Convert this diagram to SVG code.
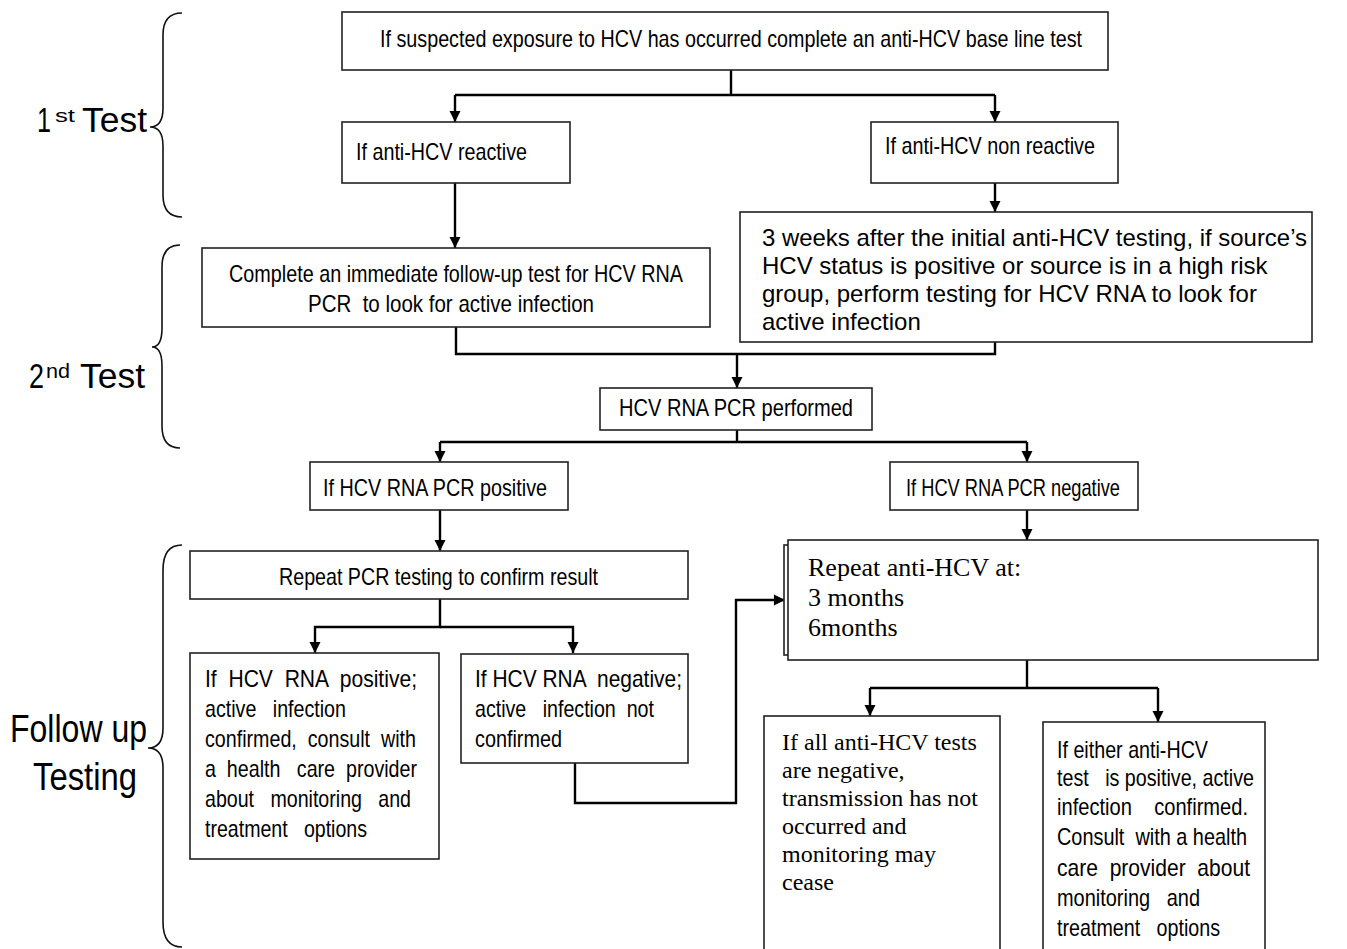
<svg xmlns="http://www.w3.org/2000/svg" width="1347" height="949" viewBox="0 0 1347 949">
<style>
.box{fill:#fff;stroke:#222;stroke-width:1.6}
.c{fill:none;stroke:#000;stroke-width:2.4}
.br{fill:none;stroke:#111;stroke-width:1.6}
.n{font-family:"Liberation Sans",Arial,sans-serif;fill:#000}
.a{font-family:"Liberation Sans",Arial,sans-serif;fill:#000}
.t{font-family:"Liberation Serif","Times New Roman",serif;fill:#000}
</style>
<defs>
<marker id="ah" viewBox="0 0 10 10" refX="10" refY="5" markerWidth="5.2" markerHeight="4.6" orient="auto" markerUnits="strokeWidth">
<path d="M0,0 L10,5 L0,10 z" fill="#000"/>
</marker>
</defs>
<rect width="1347" height="949" fill="#fff"/>

<g id="labels">
<path class="br" d="M182,13 Q163,13 163,35 L163,108 Q163,127 150,127 Q163,127 163,146 L163,195 Q163,217 182,217"/>
<text class="n" x="37" y="132" font-size="35" textLength="14" lengthAdjust="spacingAndGlyphs">1</text>
<text class="n" x="55" y="122" font-size="19" textLength="20" lengthAdjust="spacingAndGlyphs">st</text>
<text class="n" x="82" y="132" font-size="35" textLength="65" lengthAdjust="spacingAndGlyphs">Test</text>
<path class="br" d="M180,245 Q162,245 162,267 L162,328 Q162,347 152,347 Q162,347 162,366 L162,426 Q162,448 180,448"/>
<text class="n" x="29" y="388" font-size="35" textLength="15" lengthAdjust="spacingAndGlyphs">2</text>
<text class="n" x="46" y="378" font-size="20" textLength="24" lengthAdjust="spacingAndGlyphs">nd</text>
<text class="n" x="80" y="388" font-size="35" textLength="65" lengthAdjust="spacingAndGlyphs">Test</text>
<path class="br" d="M182,545 Q163,545 163,570 L163,728 Q163,748 148,748 Q163,748 163,768 L163,922 Q163,947 182,947"/>
<text class="n" x="10" y="742" font-size="38" textLength="137" lengthAdjust="spacingAndGlyphs">Follow up</text>
<text class="n" x="33" y="790" font-size="38" textLength="104" lengthAdjust="spacingAndGlyphs">Testing</text>
</g>

<g id="connectors">
<path class="c" d="M731,70 L731,95"/>
<path class="c" d="M455,95 L995,95" stroke-width="3"/>
<path class="c" d="M455,95 L455,122" marker-end="url(#ah)"/>
<path class="c" d="M995,95 L995,122" marker-end="url(#ah)"/>
<path class="c" d="M455,183 L455,248" marker-end="url(#ah)"/>
<path class="c" d="M995,183 L995,212" marker-end="url(#ah)"/>
<path class="c" d="M456,327 L456,354 L995,354 L995,342"/>
<path class="c" d="M737,354 L737,388" marker-end="url(#ah)"/>
<path class="c" d="M737,430 L737,442"/>
<path class="c" d="M440,442 L1027,442" stroke-width="3"/>
<path class="c" d="M440,442 L440,462" marker-end="url(#ah)"/>
<path class="c" d="M1027,442 L1027,462" marker-end="url(#ah)"/>
<path class="c" d="M440,510 L440,551" marker-end="url(#ah)"/>
<path class="c" d="M1027,510 L1027,540" marker-end="url(#ah)"/>
<path class="c" d="M440,599 L440,627 L315,627 L315,653" marker-end="url(#ah)"/>
<path class="c" d="M440,627 L573,627 L573,653" marker-end="url(#ah)"/>
<path class="c" d="M575,763 L575,803 L736,803 L736,600 L785,600" marker-end="url(#ah)"/>
<path class="c" d="M1027,660 L1027,688"/>
<path class="c" d="M870,688 L1158,688" stroke-width="3"/>
<path class="c" d="M870,688 L870,716" marker-end="url(#ah)"/>
<path class="c" d="M1158,688 L1158,722" marker-end="url(#ah)"/>
</g>

<g id="n_start">
<rect class="box" x="342" y="12" width="766" height="58"/>
<text class="n" x="380" y="47" font-size="24" textLength="702" lengthAdjust="spacingAndGlyphs">If suspected exposure to HCV has occurred complete an anti-HCV base line test</text>
</g>
<g id="n_reactive">
<rect class="box" x="342" y="122" width="228" height="61"/>
<text class="n" x="356" y="160" font-size="24" textLength="171" lengthAdjust="spacingAndGlyphs">If anti-HCV reactive</text>
</g>
<g id="n_nonreactive">
<rect class="box" x="871" y="122" width="247" height="61"/>
<text class="n" x="885" y="154" font-size="24" textLength="210" lengthAdjust="spacingAndGlyphs">If anti-HCV non reactive</text>
</g>
<g id="n_immediate">
<rect class="box" x="202" y="248" width="508" height="79"/>
<text class="n" x="229" y="282" font-size="24" textLength="454" lengthAdjust="spacingAndGlyphs">Complete an immediate follow-up test for HCV RNA</text>
<text class="n" x="308" y="312" font-size="24" textLength="286" lengthAdjust="spacingAndGlyphs" xml:space="preserve">PCR  to look for active infection</text>
</g>
<g id="n_3weeks">
<rect class="box" x="740" y="212" width="572" height="130"/>
<text class="a" x="762" y="246" font-size="24" textLength="545" lengthAdjust="spacingAndGlyphs">3 weeks after the initial anti-HCV testing, if source’s</text>
<text class="a" x="762" y="274" font-size="24">HCV status is positive or source is in a high risk</text>
<text class="a" x="762" y="302" font-size="24">group, perform testing for HCV RNA to look for</text>
<text class="a" x="762" y="330" font-size="24">active infection</text>
</g>
<g id="n_performed">
<rect class="box" x="600" y="388" width="272" height="42"/>
<text class="n" x="619" y="416" font-size="24" textLength="234" lengthAdjust="spacingAndGlyphs">HCV RNA PCR performed</text>
</g>
<g id="n_pcrpos">
<rect class="box" x="310" y="462" width="258" height="48"/>
<text class="n" x="323" y="496" font-size="24" textLength="224" lengthAdjust="spacingAndGlyphs">If HCV RNA PCR positive</text>
</g>
<g id="n_pcrneg">
<rect class="box" x="890" y="462" width="248" height="48"/>
<text class="n" x="906" y="496" font-size="24" textLength="214" lengthAdjust="spacingAndGlyphs">If HCV RNA PCR negative</text>
</g>
<g id="n_repeatpcr">
<rect class="box" x="190" y="551" width="498" height="48"/>
<text class="n" x="279" y="585" font-size="24" textLength="319" lengthAdjust="spacingAndGlyphs">Repeat PCR testing to confirm result</text>
</g>
<g id="n_rnapos">
<rect class="box" x="190" y="653" width="249" height="206"/>
<g class="n" font-size="24">
<text x="205" y="687" textLength="212" lengthAdjust="spacingAndGlyphs" xml:space="preserve">If  HCV  RNA  positive;</text>
<text x="205" y="717" textLength="141" lengthAdjust="spacingAndGlyphs" xml:space="preserve">active   infection</text>
<text x="205" y="747" textLength="211" lengthAdjust="spacingAndGlyphs" xml:space="preserve">confirmed,  consult  with</text>
<text x="205" y="777" textLength="212" lengthAdjust="spacingAndGlyphs" xml:space="preserve">a  health   care  provider</text>
<text x="205" y="807" textLength="206" lengthAdjust="spacingAndGlyphs" xml:space="preserve">about   monitoring   and</text>
<text x="205" y="837" textLength="162" lengthAdjust="spacingAndGlyphs" xml:space="preserve">treatment   options</text>
</g>
</g>
<g id="n_rnaneg">
<rect class="box" x="461" y="654" width="227" height="109"/>
<g class="n" font-size="24">
<text x="475" y="687" textLength="207" lengthAdjust="spacingAndGlyphs" xml:space="preserve">If HCV RNA  negative;</text>
<text x="475" y="717" textLength="179" lengthAdjust="spacingAndGlyphs" xml:space="preserve">active   infection  not</text>
<text x="475" y="747" textLength="87" lengthAdjust="spacingAndGlyphs">confirmed</text>
</g>
</g>
<g id="n_repeatanti">
<rect class="box" x="784" y="545" width="530" height="110"/>
<rect class="box" x="788" y="540" width="530" height="120"/>
<g class="t" font-size="26">
<text x="808" y="576">Repeat anti-HCV at:</text>
<text x="808" y="606">3 months</text>
<text x="808" y="636">6months</text>
</g>
</g>
<g id="n_allneg">
<rect class="box" x="764" y="716" width="236" height="250"/>
<g class="t" font-size="24">
<text x="782" y="750">If all anti-HCV tests</text>
<text x="782" y="778">are negative,</text>
<text x="782" y="806">transmission has not</text>
<text x="782" y="834">occurred and</text>
<text x="782" y="862">monitoring may</text>
<text x="782" y="890">cease</text>
</g>
</g>
<g id="n_eitherpos">
<rect class="box" x="1043" y="722" width="222" height="244"/>
<g class="n" font-size="24">
<text x="1057" y="758" textLength="151" lengthAdjust="spacingAndGlyphs">If either anti-HCV</text>
<text x="1057" y="786" textLength="197" lengthAdjust="spacingAndGlyphs" xml:space="preserve">test   is positive, active</text>
<text x="1057" y="815" textLength="191" lengthAdjust="spacingAndGlyphs" xml:space="preserve">infection    confirmed.</text>
<text x="1057" y="845" textLength="190" lengthAdjust="spacingAndGlyphs" xml:space="preserve">Consult  with a health</text>
<text x="1057" y="876" textLength="193" lengthAdjust="spacingAndGlyphs" xml:space="preserve">care  provider  about</text>
<text x="1057" y="906" textLength="143" lengthAdjust="spacingAndGlyphs" xml:space="preserve">monitoring   and</text>
<text x="1057" y="936" textLength="163" lengthAdjust="spacingAndGlyphs" xml:space="preserve">treatment   options</text>
</g>
</g>
</svg>
